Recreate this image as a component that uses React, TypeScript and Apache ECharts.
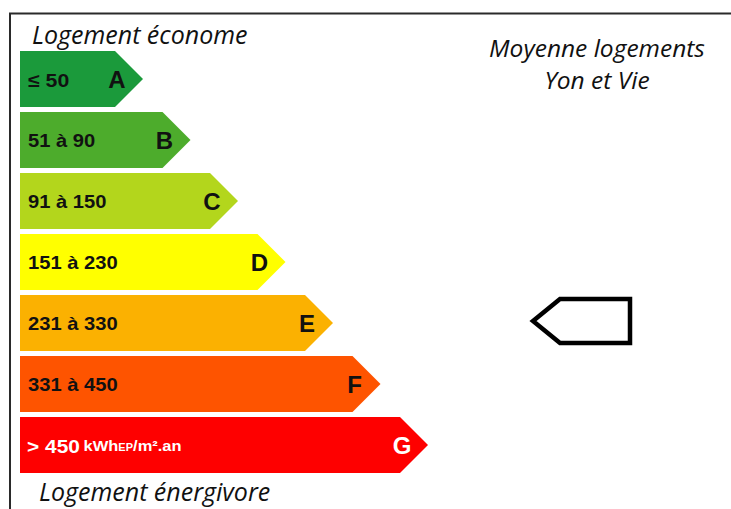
import React, { useEffect, useRef } from "react";
import * as echarts from "echarts";

// Energy classes, top (économe) to bottom (énergivore)
const classLetters = ["A", "B", "C", "D", "E", "F", "G"];
const rangeLabels = ["≤ 50", "51 à 90", "91 à 150", "151 à 230", "231 à 330", "331 à 450", "> 450"];
const unitLabel = "kWh";
const unitSub = "EP";
const unitTail = "/m².an";
// visual length of each arrow (arbitrary units on the hidden value axis)
const barUnits = [2, 3, 4, 5, 6, 7, 8];
const classColors = ["#1b9a3b", "#4dac2c", "#b3d61c", "#ffff00", "#fbb101", "#fe5400", "#fe0000"];
// class of the average dwelling "Moyenne logements Yon et Vie"
const averageClass = "E";
const headerTop = "Logement économe";
const headerBottom = "Logement énergivore";
const averageTitle = ["Moyenne logements", "Yon et Vie"];

export default function App() {
  const ref = useRef<HTMLDivElement>(null);
  useEffect(() => {
    if (!ref.current) return;
    const chart = echarts.init(ref.current, null, { renderer: "svg" });
    const labelFont = "'Liberation Sans', Arial, sans-serif";
    const italicFont = "italic 25px 'Open Sans', sans-serif";
    const italicFontR = "italic 24.5px 'Open Sans', sans-serif";

    const renderArrow = (params: any, api: any) => {
      const idx = api.value(0);
      const len = api.value(1);
      const c = api.coord([len, idx]);
      const x0 = api.coord([0, idx])[0];
      const band = api.size([0, 1])[1];
      const h = band * 0.915;
      const yc = c[1];
      const xe = c[0];
      const top = yc - h / 2;
      const bot = yc + h / 2;
      const tip = 28;
      const isLast = idx === classLetters.length - 1;
      const txtColor = isLast ? "#ffffff" : "#111111";
      const children: any[] = [
        {
          type: "polygon",
          shape: { points: [[x0, top], [xe, top], [xe + tip, yc], [xe, bot], [x0, bot]] },
          style: { fill: classColors[idx] },
        },
        {
          type: "text",
          x: xe + 2,
          y: yc,
          style: {
            text: classLetters[idx],
            fill: txtColor,
            font: `bold 24px ${labelFont}`,
            align: "center",
            textAlign: "center",
            verticalAlign: "middle",
            textVerticalAlign: "middle",
          },
        },
      ];
      if (isLast) {
        children.push({
          type: "text",
          x: x0 + 7,
          y: yc + 1,
          scaleX: 1.1,
          style: {
            text: `{a|${rangeLabels[idx]}} {b|${unitLabel}}{c|${unitSub}}{b|${unitTail}}`,
            fill: txtColor,
            align: "left",
            textAlign: "left",
            verticalAlign: "middle",
            textVerticalAlign: "middle",
            rich: {
              a: { fontSize: 19, fontWeight: "bold", fontFamily: labelFont, fill: txtColor, color: txtColor },
              b: { fontSize: 15, fontWeight: "bold", fontFamily: labelFont, fill: txtColor, color: txtColor },
              c: { fontSize: 10, fontWeight: "bold", fontFamily: labelFont, fill: txtColor, color: txtColor, padding: [3, 0, 0, 0] },
            },
          },
        });
      } else {
        children.push({
          type: "text",
          x: x0 + 8,
          y: yc + 1,
          scaleX: 1.12,
          style: {
            text: rangeLabels[idx],
            fill: txtColor,
            font: `bold ${idx === 0 ? 19 : 18}px ${labelFont}`,
            align: "left",
            textAlign: "left",
            verticalAlign: "middle",
            textVerticalAlign: "middle",
          },
        });
      }
      return { type: "group", children };
    };

    const renderMarker = (params: any, api: any) => {
      const idx = api.value(0);
      const yc = api.coord([0, idx])[1] - 2;
      const xl = 533;
      const xs = 560;
      const xr = 630;
      const hh = 22;
      return {
        type: "polygon",
        shape: { points: [[xl, yc], [xs, yc - hh], [xr, yc - hh], [xr, yc + hh], [xs, yc + hh]] },
        style: { fill: "none", stroke: "#000000", lineWidth: 4.5, lineJoin: "miter" },
      };
    };

    chart.setOption({
      animation: false,
      backgroundColor: "#ffffff",
      grid: { left: 20, top: 48.5, width: 475, height: 427 },
      xAxis: { type: "value", min: 0, max: 10, show: false },
      yAxis: { type: "category", data: classLetters, inverse: true, show: false },
      graphic: [
        {
          type: "polyline",
          shape: { points: [[10, 509], [10, 13.5], [731, 13.5]] },
          style: { stroke: "#2a2a2a", lineWidth: 2, fill: "none" },
        },
        {
          type: "text",
          x: 32,
          y: 34,
          style: { text: headerTop, font: italicFont, fill: "#111", textVerticalAlign: "middle", verticalAlign: "middle" },
        },
        {
          type: "text",
          x: 39,
          y: 491,
          style: { text: headerBottom, font: italicFont, fill: "#111", textVerticalAlign: "middle", verticalAlign: "middle" },
        },
        {
          type: "text",
          x: 597,
          y: 47,
          style: {
            text: averageTitle[0],
            font: italicFontR,
            fill: "#111",
            textAlign: "center",
            align: "center",
            textVerticalAlign: "middle",
            verticalAlign: "middle",
          },
        },
        {
          type: "text",
          x: 597,
          y: 79,
          style: {
            text: averageTitle[1],
            font: italicFontR,
            fill: "#111",
            textAlign: "center",
            align: "center",
            textVerticalAlign: "middle",
            verticalAlign: "middle",
          },
        },
      ],
      series: [
        {
          type: "custom",
          renderItem: renderArrow,
          data: barUnits.map((v, i) => [i, v]),
          encode: { x: 1, y: 0 },
          silent: true,
        },
        {
          type: "custom",
          renderItem: renderMarker,
          data: [[classLetters.indexOf(averageClass)]],
          encode: { y: 0 },
          silent: true,
        },
      ],
    });
    return () => chart.dispose();
  }, []);
  return (
    <div
      ref={ref}
      style={{ position: "fixed", left: 0, top: 0, width: 731, height: 509, background: "#fff" }}
    />
  );
}
